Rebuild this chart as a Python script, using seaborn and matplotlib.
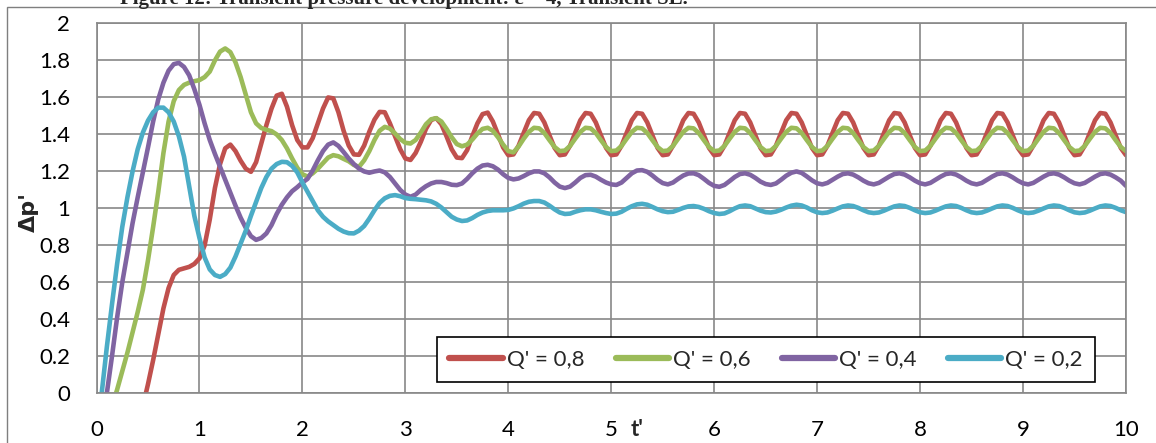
import numpy as np
import pandas as pd
import matplotlib
matplotlib.use('Agg')
import matplotlib.pyplot as plt
import seaborn as sns
from matplotlib.patches import Rectangle

nan = np.nan

# dimensionless time t' (read every 0.05)
t = np.round(np.arange(201) * 0.05, 2)

# Q' = 0,8
q08 = [nan, nan, nan, nan, nan, nan, nan, nan, -0.20, -0.07,
       0.05, 0.18, 0.32, 0.46, 0.57, 0.64, 0.668, 0.676, 0.684, 0.70,
       0.73, 0.80, 0.94, 1.11, 1.24, 1.325, 1.345, 1.31, 1.258, 1.215,
       1.198, 1.25, 1.35, 1.45, 1.54, 1.61, 1.62, 1.55, 1.45, 1.37,
       1.33, 1.33, 1.38, 1.46, 1.54, 1.60, 1.595, 1.52, 1.42, 1.34,
       1.292, 1.29, 1.34, 1.415, 1.48, 1.522, 1.52, 1.46, 1.39, 1.32,
       1.27, 1.262, 1.30, 1.36, 1.43, 1.478, 1.488, 1.455, 1.39, 1.32,
       1.275, 1.272, 1.315, 1.39, 1.46, 1.51, 1.518, 1.47, 1.40, 1.33,
       1.288, 1.292, 1.339, 1.409, 1.477, 1.516, 1.512, 1.465, 1.395, 1.327,
       1.288, 1.292, 1.339, 1.409, 1.477, 1.516, 1.512, 1.465, 1.395, 1.327,
       1.288, 1.292, 1.339, 1.409, 1.477, 1.516, 1.512, 1.465, 1.395, 1.327,
       1.288, 1.292, 1.339, 1.409, 1.477, 1.516, 1.512, 1.465, 1.395, 1.327,
       1.288, 1.292, 1.339, 1.409, 1.477, 1.516, 1.512, 1.465, 1.395, 1.327,
       1.288, 1.292, 1.339, 1.409, 1.477, 1.516, 1.512, 1.465, 1.395, 1.327,
       1.288, 1.292, 1.339, 1.409, 1.477, 1.516, 1.512, 1.465, 1.395, 1.327,
       1.288, 1.292, 1.339, 1.409, 1.477, 1.516, 1.512, 1.465, 1.395, 1.327,
       1.288, 1.292, 1.339, 1.409, 1.477, 1.516, 1.512, 1.465, 1.395, 1.327,
       1.288, 1.292, 1.339, 1.409, 1.477, 1.516, 1.512, 1.465, 1.395, 1.327,
       1.288, 1.292, 1.339, 1.409, 1.477, 1.516, 1.512, 1.465, 1.395, 1.327,
       1.288, 1.292, 1.339, 1.409, 1.477, 1.516, 1.512, 1.465, 1.395, 1.327,
       1.288]

# Q' = 0,6
q06 = [nan, nan, -0.15, -0.07, 0.02, 0.12, 0.22, 0.33, 0.44, 0.56,
       0.72, 0.90, 1.09, 1.30, 1.47, 1.58, 1.64, 1.668, 1.68, 1.688,
       1.694, 1.71, 1.74, 1.80, 1.848, 1.865, 1.845, 1.79, 1.71, 1.615,
       1.52, 1.46, 1.435, 1.425, 1.418, 1.40, 1.37, 1.325, 1.27, 1.22,
       1.185, 1.172, 1.19, 1.215, 1.245, 1.275, 1.288, 1.282, 1.268, 1.255,
       1.235, 1.225, 1.26, 1.31, 1.37, 1.42, 1.441, 1.432, 1.405, 1.375,
       1.355, 1.351, 1.37, 1.41, 1.455, 1.482, 1.488, 1.47, 1.43, 1.385,
       1.348, 1.336, 1.345, 1.372, 1.405, 1.43, 1.436, 1.42, 1.385, 1.345,
       1.31, 1.303, 1.335, 1.377, 1.414, 1.436, 1.433, 1.408, 1.369, 1.332,
       1.31, 1.313, 1.338, 1.377, 1.414, 1.436, 1.433, 1.408, 1.369, 1.332,
       1.31, 1.313, 1.338, 1.377, 1.414, 1.436, 1.433, 1.408, 1.369, 1.332,
       1.31, 1.313, 1.338, 1.377, 1.414, 1.436, 1.433, 1.408, 1.369, 1.332,
       1.31, 1.313, 1.338, 1.377, 1.414, 1.436, 1.433, 1.408, 1.369, 1.332,
       1.31, 1.313, 1.338, 1.377, 1.414, 1.436, 1.433, 1.408, 1.369, 1.332,
       1.31, 1.313, 1.338, 1.377, 1.414, 1.436, 1.433, 1.408, 1.369, 1.332,
       1.31, 1.313, 1.338, 1.377, 1.414, 1.436, 1.433, 1.408, 1.369, 1.332,
       1.31, 1.313, 1.338, 1.377, 1.414, 1.436, 1.433, 1.408, 1.369, 1.332,
       1.31, 1.313, 1.338, 1.377, 1.414, 1.436, 1.433, 1.408, 1.369, 1.332,
       1.31, 1.313, 1.338, 1.377, 1.414, 1.436, 1.433, 1.408, 1.369, 1.332,
       1.31, 1.313, 1.338, 1.377, 1.414, 1.436, 1.433, 1.408, 1.369, 1.332,
       1.31]

# Q' = 0,4
q04 = [-0.40, -0.20, 0.0, 0.20, 0.41, 0.60, 0.76, 0.92, 1.06, 1.195,
       1.33, 1.47, 1.59, 1.68, 1.745, 1.78, 1.787, 1.765, 1.72, 1.645,
       1.56, 1.46, 1.37, 1.295, 1.225, 1.155, 1.085, 1.015, 0.95, 0.895,
       0.85, 0.83, 0.84, 0.865, 0.91, 0.97, 1.02, 1.06, 1.093, 1.115,
       1.14, 1.16, 1.205, 1.26, 1.31, 1.345, 1.357, 1.338, 1.305, 1.27,
       1.24, 1.215, 1.2, 1.193, 1.2, 1.205, 1.195, 1.17, 1.135, 1.1,
       1.075, 1.063, 1.075, 1.1, 1.12, 1.135, 1.143, 1.143, 1.137, 1.128,
       1.126, 1.135, 1.16, 1.19, 1.215, 1.232, 1.236, 1.228, 1.21, 1.185,
       1.165, 1.157, 1.162, 1.175, 1.19, 1.2, 1.2, 1.19, 1.168, 1.14,
       1.118, 1.11, 1.118, 1.14, 1.165, 1.18, 1.182, 1.172, 1.155, 1.14,
       1.13, 1.127, 1.14, 1.165, 1.19, 1.205, 1.207, 1.198, 1.178, 1.155,
       1.137, 1.13, 1.14, 1.16, 1.178, 1.189, 1.19, 1.18, 1.16, 1.138,
       1.122, 1.117, 1.127, 1.148, 1.17, 1.186, 1.19, 1.182, 1.165, 1.145,
       1.132, 1.127, 1.135, 1.155, 1.177, 1.193, 1.2, 1.192, 1.173, 1.152,
       1.136, 1.13, 1.138, 1.155, 1.172, 1.186, 1.19, 1.183, 1.168, 1.15,
       1.136, 1.13, 1.138, 1.155, 1.172, 1.186, 1.19, 1.183, 1.168, 1.15,
       1.136, 1.13, 1.138, 1.155, 1.172, 1.186, 1.19, 1.183, 1.168, 1.15,
       1.136, 1.13, 1.138, 1.155, 1.172, 1.186, 1.19, 1.183, 1.168, 1.15,
       1.136, 1.13, 1.138, 1.155, 1.172, 1.186, 1.19, 1.183, 1.168, 1.15,
       1.136, 1.13, 1.138, 1.155, 1.172, 1.186, 1.19, 1.183, 1.168, 1.15,
       1.122]

# Q' = 0,2
q02 = [-0.22, 0.0, 0.25, 0.48, 0.70, 0.90, 1.06, 1.20, 1.32, 1.41,
       1.475, 1.52, 1.545, 1.545, 1.52, 1.47, 1.39, 1.28, 1.12, 0.96,
       0.84, 0.735, 0.67, 0.64, 0.63, 0.645, 0.68, 0.74, 0.81, 0.88,
       0.96, 1.035, 1.11, 1.17, 1.215, 1.24, 1.252, 1.25, 1.23, 1.195,
       1.14, 1.09, 1.04, 0.99, 0.955, 0.93, 0.91, 0.89, 0.875, 0.866,
       0.865, 0.88, 0.905, 0.945, 0.99, 1.03, 1.055, 1.068, 1.072, 1.066,
       1.056, 1.052, 1.05, 1.047, 1.044, 1.038, 1.025, 1.005, 0.98, 0.955,
       0.94, 0.932, 0.935, 0.948, 0.965, 0.978, 0.986, 0.99, 0.99, 0.99,
       0.992, 1.0, 1.012, 1.026, 1.036, 1.04, 1.04, 1.032, 1.015, 0.995,
       0.978, 0.97, 0.972, 0.982, 0.99, 0.995, 0.995, 0.99, 0.982, 0.975,
       0.97, 0.972, 0.982, 0.998, 1.012, 1.022, 1.025, 1.02, 1.008, 0.995,
       0.985, 0.98, 0.982, 0.992, 1.003, 1.011, 1.013, 1.008, 0.998, 0.985,
       0.975, 0.97, 0.973, 0.985, 1.0, 1.012, 1.016, 1.012, 1.0, 0.988,
       0.98, 0.978, 0.983, 0.993, 1.005, 1.015, 1.02, 1.016, 1.005, 0.99,
       0.979, 0.975, 0.978, 0.988, 1.0, 1.011, 1.016, 1.013, 1.003, 0.99,
       0.979, 0.975, 0.978, 0.988, 1.0, 1.011, 1.016, 1.013, 1.003, 0.99,
       0.979, 0.975, 0.978, 0.988, 1.0, 1.011, 1.016, 1.013, 1.003, 0.99,
       0.979, 0.975, 0.978, 0.988, 1.0, 1.011, 1.016, 1.013, 1.003, 0.99,
       0.979, 0.975, 0.978, 0.988, 1.0, 1.011, 1.016, 1.013, 1.003, 0.99,
       0.979, 0.975, 0.978, 0.988, 1.0, 1.011, 1.016, 1.013, 1.003, 0.99,
       0.98]

labels = ["Q' = 0,8", "Q' = 0,6", "Q' = 0,4", "Q' = 0,2"]
colors = ['#C0504D', '#9BBB59', '#8064A2', '#4BACC6']
x_ticks = list(range(0, 11))
y_ticks = [0, 0.2, 0.4, 0.6, 0.8, 1, 1.2, 1.4, 1.6, 1.8, 2]
y_ticklabels = ['0', '0.2', '0.4', '0.6', '0.8', '1', '1.2', '1.4', '1.6', '1.8', '2']

# long format table for seaborn
frames = []
for name, vals in zip(labels, [q08, q06, q04, q02]):
    frames.append(pd.DataFrame({'t': t, 'dp': vals, 'series': name}))
df = pd.concat(frames).dropna()

sns.set_theme(style='white')
plt.rcParams['font.family'] = ['Lato', 'DejaVu Sans']

grid_col = '#888888'
fig = plt.figure(figsize=(11.56, 4.43), dpi=100)
ax = fig.add_axes([0.0835, 0.112, 0.8905, 0.835])

sns.lineplot(data=df, x='t', y='dp', hue='series', hue_order=labels,
             palette=colors, linewidth=3.3, estimator=None, sort=False,
             solid_capstyle='round', solid_joinstyle='round', ax=ax)

ax.set_xlim(0, 10)
ax.set_ylim(0, 2)
ax.set_xticks(x_ticks)
ax.set_yticks(y_ticks)
ax.set_yticklabels(y_ticklabels)
ax.grid(True, color=grid_col, linewidth=1.2)
ax.set_axisbelow(True)
for sp in ax.spines.values():
    sp.set_color(grid_col)
    sp.set_linewidth(1.2)
ax.tick_params(axis='both', direction='out', length=6, width=1.2, color=grid_col,
               labelsize=16, labelcolor='black', pad=13)

# axis titles sit where the original chart put them
ax.set_ylabel("Δp'", fontsize=16, fontweight='bold', family=['DejaVu Sans'])
ax.yaxis.set_label_coords(-0.066, 0.49)
ax.yaxis.label.set_va('center')
ax.set_xlabel("t'", fontsize=16, fontweight='bold')
ax.xaxis.set_label_coords(0.525, -0.097)
ax.xaxis.label.set_va('center')

handles, _ = ax.get_legend_handles_labels()
for h in handles:
    h.set_linewidth(4.5)
leg = ax.legend(handles, labels, loc='lower left', bbox_to_anchor=(0.331, 0.031),
                ncol=4, frameon=True, fancybox=False, fontsize=16,
                handlelength=2.4, handletextpad=0.2, columnspacing=1.38,
                borderpad=0.55, borderaxespad=0)
leg.get_frame().set_edgecolor('black')
leg.get_frame().set_linewidth(1.2)
leg.get_frame().set_alpha(1)

# outer frame of the chart object
fig.patches.append(Rectangle((7 / 1156, -0.1), 1.5, 1.1 - 7 / 443, transform=fig.transFigure,
                             fill=False, edgecolor='#7f7f7f', linewidth=1.0))
fig.text(120 / 1156, 1 - 4 / 443, "Figure 12: Transient pressure development: ε = 4, Transient SL.",
         fontsize=15, fontweight='bold', family=['Liberation Serif', 'DejaVu Serif'],
         va='baseline', ha='left')

fig.savefig('out.png', dpi=100)
